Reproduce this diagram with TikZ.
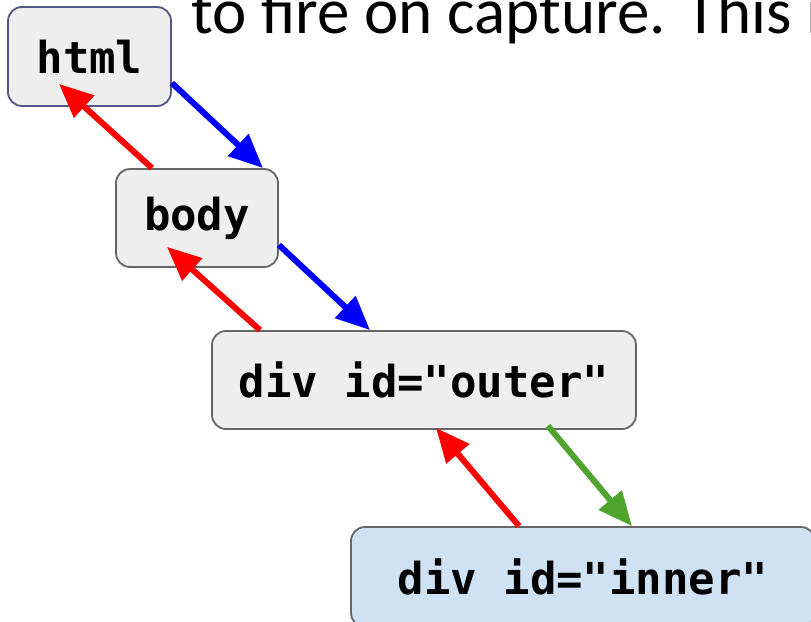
\documentclass[tikz,border=0pt]{standalone}
\usepackage{fontspec}
\setmainfont{Carlito}
\newfontfamily\monofam{DejaVu Sans Mono}
\usetikzlibrary{arrows.meta}
\definecolor{boxgray}{HTML}{EEEEEE}
\definecolor{boxblue}{HTML}{CFE2F3}
\definecolor{edgegray}{HTML}{666666}
\definecolor{edgehtml}{HTML}{555588}
\definecolor{arrblue}{HTML}{0000FF}
\definecolor{arrred}{HTML}{FF0000}
\definecolor{arrgreen}{HTML}{50A32C}
\tikzset{
  elbox/.style={draw=edgegray, line width=1.8pt, fill=boxgray, rounded corners=14pt,
    inner sep=0pt, font=\monofam\bfseries\fontsize{44}{50}\selectfont},
  flow/.style={line width=6pt, -{Triangle[length=34pt,width=29pt]}},
}
\begin{document}
\begin{tikzpicture}[x=1pt,y=-1pt]
\useasboundingbox (0,0) rectangle (811,621);
\node[anchor=base west, inner sep=0pt, font=\fontsize{65}{72}\selectfont] (caption) at (191,33) {to fire on capture. This is};
\node[elbox, draw=edgehtml, minimum width=163pt, minimum height=99pt] (html) at (89.5,56.5) {html};
\node[elbox, minimum width=162pt, minimum height=98pt] (body) at (197,218) {body};
\node[elbox, minimum width=424pt, minimum height=98pt] (outer) at (424,380) {div id="outer"};
\node[elbox, fill=boxblue, minimum width=464pt, minimum height=100pt] (inner) at (583,577) {div id="inner"};
% capture (blue / green) and bubble (red)
\draw[flow, arrblue] ([yshift=-26.5pt]html.east) -- ([xshift=66pt]body.north);
\draw[flow, arrred] ([xshift=-45pt]body.north) -- ([xshift=-30.5pt,yshift=23pt]html.south);
\draw[flow, arrblue] ([yshift=-27pt]body.east) -- ([xshift=-54pt]outer.north);
\draw[flow, arrred] ([xshift=-164pt]outer.north) -- ([xshift=-30pt,yshift=21pt]body.south);
\draw[flow, arrred] ([xshift=-64pt]inner.north) -- ([xshift=12pt,yshift=2pt]outer.south);
\draw[flow, arrgreen] ([xshift=124pt,yshift=4pt]outer.south) -- ([xshift=49pt]inner.north);
\end{tikzpicture}
\end{document}
